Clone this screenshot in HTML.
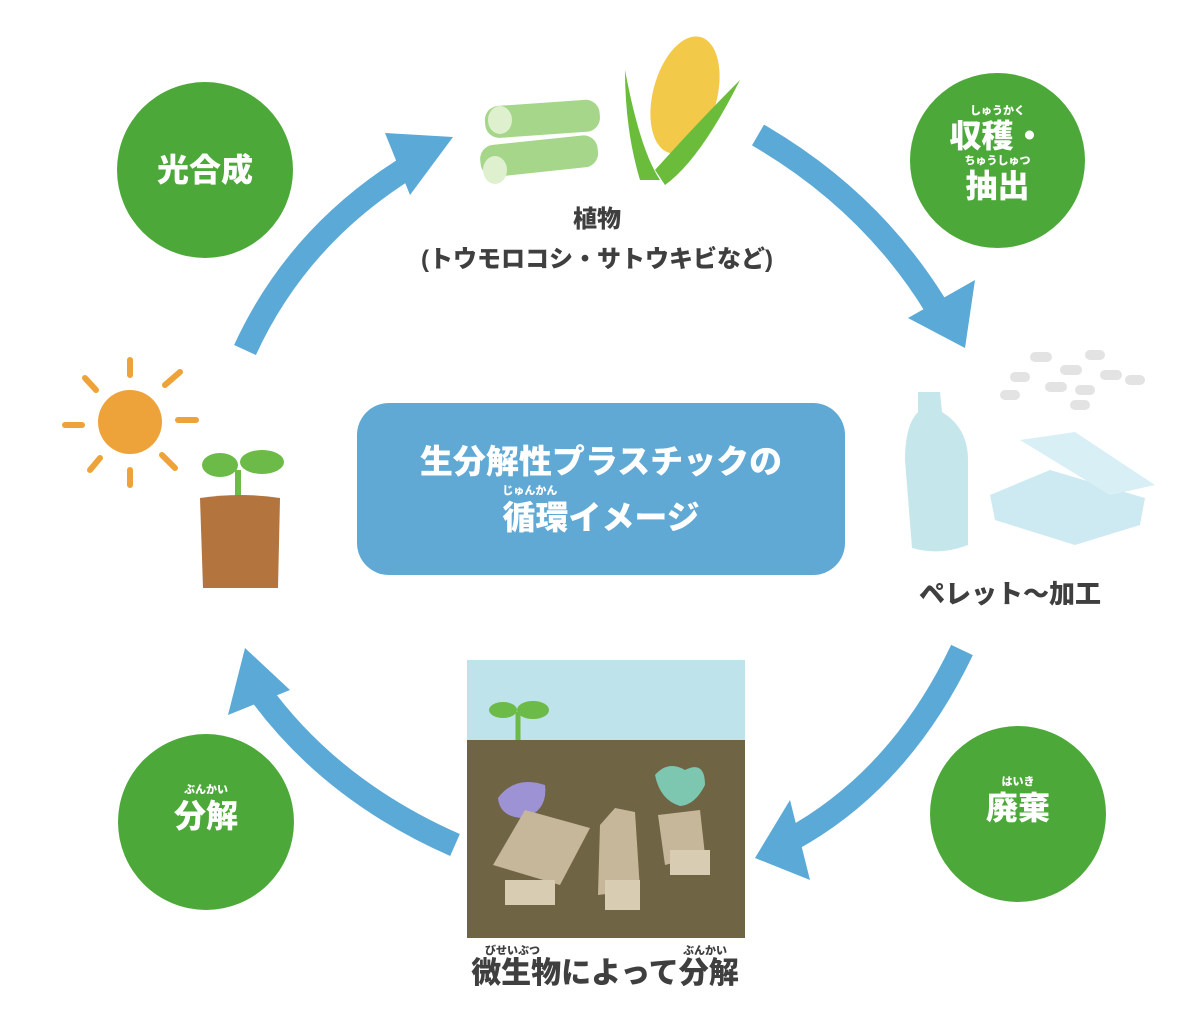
<!DOCTYPE html>
<html><head><meta charset="utf-8"><style>
body{margin:0;width:1200px;height:1012px;background:#fff;overflow:hidden;position:relative;font-family:"Liberation Sans","Noto Sans CJK JP",sans-serif;}
.c{position:absolute;border-radius:50%;background:#4da83a;color:#fff;font-weight:900;text-align:center;}
.t{position:absolute;font-weight:900;color:#3f3f3f;text-align:center;white-space:nowrap;}
.r{display:block;font-size:11px;line-height:12px;}
</style></head><body>
<svg width="1200" height="1012" style="position:absolute;left:0;top:0">
<g fill="none" stroke="#5aa9d6" stroke-width="24">
<path d="M245 350 Q300 230 420 160"/>
<path d="M758 135 Q870 200 935 305"/>
<path d="M962 650 Q900 780 790 840"/>
<path d="M455 845 Q330 790 258 690"/>
</g>
<g fill="#5aa9d6">
<polygon points="453,137 385,133 410,195"/>
<polygon points="965,348 908,318 975,280"/>
<polygon points="755,858 790,800 810,880"/>
<polygon points="245,648 228,715 290,690"/>
</g>
<rect x="357" y="403" width="488" height="172" rx="32" fill="#5fa9d4"/>
<circle cx="130" cy="422" r="32" fill="#eea33a"/>
<g stroke="#eea33a" stroke-width="6" stroke-linecap="round">
<line x1="130" y1="360" x2="130" y2="375"/><line x1="130" y1="470" x2="130" y2="485"/>
<line x1="65" y1="425" x2="82" y2="425"/><line x1="178" y1="420" x2="196" y2="420"/>
<line x1="85" y1="378" x2="96" y2="390"/><line x1="165" y1="385" x2="180" y2="372"/>
<line x1="90" y1="470" x2="100" y2="458"/><line x1="162" y1="455" x2="175" y2="468"/>
</g>
<path d="M238 500 L238 470" stroke="#6cba48" stroke-width="6"/>
<ellipse cx="220" cy="465" rx="18" ry="12" fill="#6cba48"/><ellipse cx="262" cy="462" rx="22" ry="12" fill="#6cba48"/>
<path d="M200 498 Q240 492 280 498 L278 588 L203 588 Z" fill="#b3743d"/>
<rect x="485" y="103" width="115" height="32" rx="14" fill="#a6d68a" transform="rotate(-4 540 120)"/>
<rect x="480" y="140" width="118" height="32" rx="14" fill="#a6d68a" transform="rotate(-6 540 155)"/>
<ellipse cx="500" cy="120" rx="12" ry="14" fill="#dff0cf"/><ellipse cx="495" cy="170" rx="12" ry="14" fill="#dff0cf"/>
<ellipse cx="685" cy="95" rx="32" ry="60" fill="#f3c94a" transform="rotate(15 685 95)"/>
<path d="M625 70 Q640 150 660 180 L640 180 Q625 130 625 70Z" fill="#6cbc3c"/>
<path d="M740 80 Q700 160 665 185 L655 170 Q700 120 740 80Z" fill="#6cbc3c"/>
<g fill="#e3e3e3">
<rect x="1030" y="352" width="22" height="10" rx="5"/><rect x="1085" y="350" width="20" height="10" rx="5"/>
<rect x="1060" y="365" width="22" height="10" rx="5"/><rect x="1010" y="372" width="20" height="10" rx="5"/>
<rect x="1100" y="370" width="22" height="10" rx="5"/><rect x="1045" y="382" width="22" height="10" rx="5"/>
<rect x="1075" y="385" width="20" height="10" rx="5"/><rect x="1125" y="375" width="20" height="10" rx="5"/>
<rect x="1000" y="390" width="20" height="10" rx="5"/><rect x="1070" y="400" width="20" height="10" rx="5"/>
</g>
<path d="M918 392 L940 392 L942 412 Q968 428 968 460 L968 545 Q940 556 912 548 L905 460 Q905 425 918 412Z" fill="#c5e7ec"/>
<path d="M990 495 L1050 470 L1145 498 L1140 525 L1075 545 L995 520Z" fill="#cdeaf3"/>
<path d="M1020 440 L1075 432 L1155 485 L1110 495Z" fill="#d9eff6"/>
<rect x="467" y="660" width="278" height="80" fill="#bfe3ea"/>
<rect x="467" y="740" width="278" height="198" fill="#6f6444"/>
<path d="M518 740 L518 712" stroke="#6cba48" stroke-width="5"/>
<ellipse cx="503" cy="710" rx="14" ry="8" fill="#6cba48"/><ellipse cx="533" cy="710" rx="16" ry="9" fill="#6cba48"/>
<path d="M498 798 Q515 775 545 785 Q548 810 525 818 Q500 818 498 798Z" fill="#9d93d4"/>
<path d="M655 775 Q668 760 685 770 Q705 760 705 785 Q695 805 680 806 Q660 800 655 775Z" fill="#7dc7b0"/>
<path d="M493 865 L525 810 L590 828 L560 885Z" fill="#c7b79a"/>
<path d="M600 825 L615 808 L635 812 L640 890 L598 895Z" fill="#c7b79a"/>
<path d="M658 815 L700 810 L705 855 L665 865Z" fill="#c7b79a"/>
<g fill="#d8cdb2"><rect x="505" y="880" width="50" height="25"/><rect x="605" y="880" width="35" height="30"/><rect x="670" y="850" width="40" height="25"/></g>
</svg>
<div class="c" style="left:117px;top:82px;width:176px;height:176px;font-size:32px;line-height:176px;">光合成</div>
<div class="c" style="left:910px;top:73px;width:175px;height:175px;font-size:32px;"><div style="padding-top:32px;line-height:38px;"><span class="r">しゅうかく</span>収穫・<span class="r">ちゅうしゅつ</span>抽出</div></div>
<div class="c" style="left:930px;top:726px;width:176px;height:176px;font-size:32px;"><div style="padding-top:50px;line-height:40px;"><span class="r">はいき</span>廃棄</div></div>
<div class="c" style="left:118px;top:734px;width:176px;height:176px;font-size:32px;"><div style="padding-top:50px;line-height:40px;"><span class="r">ぶんかい</span>分解</div></div>
<div class="t" style="left:357px;top:440px;width:488px;color:#fff;font-size:33px;line-height:44px;">生分解性プラスチックの<br><span style="position:relative;top:12px"><span style="position:absolute;left:0;top:-14px;font-size:11px;line-height:12px;">じゅんかん</span>循環イメージ</span></div>
<div class="t" style="left:397px;top:200px;width:400px;font-size:24px;line-height:40px;">植物<br>(トウモロコシ・サトウキビなど)</div>
<div class="t" style="left:880px;top:574px;width:260px;font-size:26px;">ペレット〜加工</div>
<div class="t" style="left:455px;top:945px;width:300px;font-size:30px;line-height:34px;"><div style="font-size:11px;line-height:12px;height:12px;position:relative;"><span style="position:absolute;left:30px">びせいぶつ</span><span style="position:absolute;left:228px">ぶんかい</span></div>微生物によって分解</div>
</body></html>
